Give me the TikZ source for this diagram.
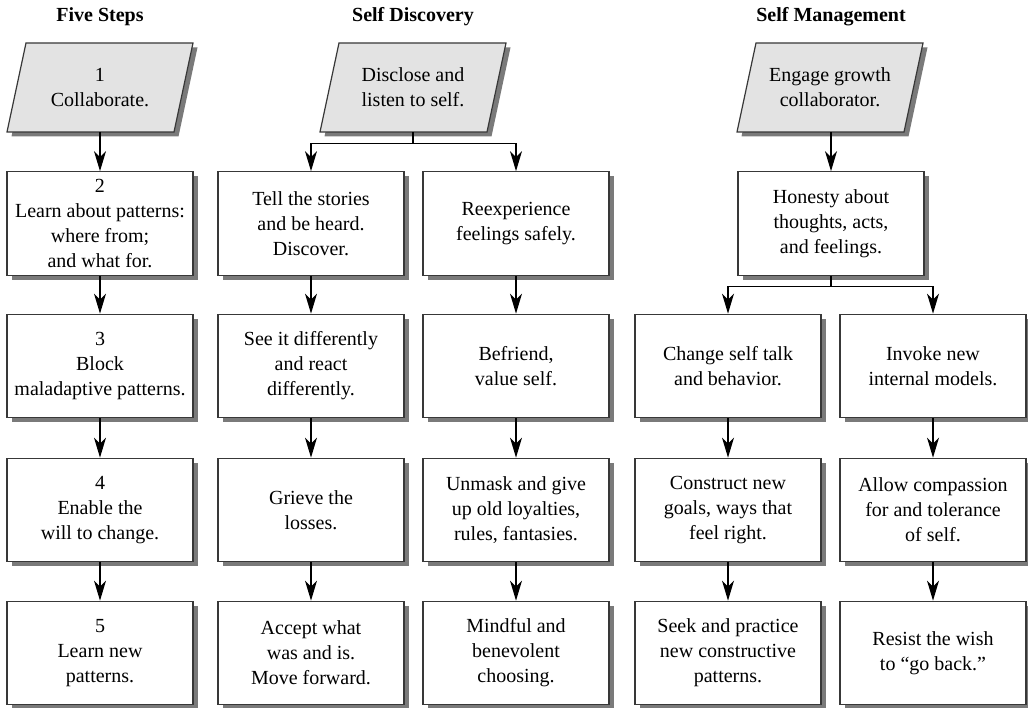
\documentclass[tikz,border=0pt]{standalone}
\usepackage{fontspec}
\setmainfont{Liberation Serif}
\usetikzlibrary{arrows.meta,shadows}

\tikzset{
  linecol/.style={draw=black!78, line width=1.2pt},
  stepbox/.style={linecol, fill=white, rectangle, minimum width=186pt,
    minimum height=103.5pt, inner sep=2pt, align=center,
    font=\fontsize{20}{25}\selectfont,
    drop shadow={shadow xshift=4.5pt, shadow yshift=-4.5pt, fill=black!52, opacity=1}},
  slanttext/.style={rectangle, minimum width=186pt, minimum height=89pt,
    inner sep=0pt, align=center, font=\fontsize{20}{25}\selectfont},
  slantfill/.style={linecol, fill=black!11},
  slantshadow/.style={fill=black!52},
  heading/.style={font=\fontsize{20}{24}\selectfont\bfseries, anchor=center},
  arr/.style={draw=black, line width=1.2pt, -{Stealth[length=20pt,width=12pt,inset=6pt]}},
}

% slanted (parallelogram) start box: name, centre x, centre y, text
\newcommand{\slantbox}[4]{%
  \fill[slantshadow] ({#2-93+4.5},{#3+44.5+4.5}) -- ({#2+74+4.5},{#3+44.5+4.5})
     -- ({#2+93+4.5},{#3-44.5+4.5}) -- ({#2-74+4.5},{#3-44.5+4.5}) -- cycle;
  \filldraw[slantfill] ({#2-93},{#3+44.5}) -- ({#2+74},{#3+44.5})
     -- ({#2+93},{#3-44.5}) -- ({#2-74},{#3-44.5}) -- cycle;
  \node[slanttext] (#1) at (#2,#3) {#4};
}

\begin{document}
\begin{tikzpicture}[x=1pt, y=-1pt]
\useasboundingbox (0,0) rectangle (1028,708);

% column headings
\node[heading] (h1) at (100,17) {Five Steps};
\node[heading] (h2) at (413,17) {Self Discovery};
\node[heading] (h3) at (831,17) {Self Management};

% starting boxes
\slantbox{p1}{100}{87.5}{1\\Collaborate.}
\slantbox{p2}{413}{87.5}{Disclose and\\listen to self.}
\slantbox{p3}{830}{87.5}{Engage growth\\collaborator.}

% Five Steps
\node[stepbox] (a1) at (100,223.5) {2\\Learn about patterns:\\where from;\\and what for.};
\node[stepbox] (a2) at (100,366) {3\\Block\\maladaptive patterns.};
\node[stepbox] (a3) at (100,510) {4\\Enable the\\will to change.};
\node[stepbox] (a4) at (100,653) {5\\Learn new\\patterns.};

% Self Discovery, left branch
\node[stepbox] (b1) at (311,223.5) {Tell the stories\\and be heard.\\Discover.};
\node[stepbox] (b2) at (311,366) {See it differently\\and react\\differently.};
\node[stepbox] (b3) at (311,510) {Grieve the\\losses.};
\node[stepbox] (b4) at (311,653) {Accept what\\was and is.\\Move forward.};

% Self Discovery, right branch
\node[stepbox] (c1) at (516,223.5) {Reexperience\\feelings safely.};
\node[stepbox] (c2) at (516,366) {Befriend,\\value self.};
\node[stepbox] (c3) at (516,510) {Unmask and give\\up old loyalties,\\rules, fantasies.};
\node[stepbox] (c4) at (516,653) {Mindful and\\benevolent\\choosing.};

% Self Management
\node[stepbox] (m0) at (831,223.5) {Honesty about\\thoughts, acts,\\and feelings.};
\node[stepbox] (d2) at (728,366) {Change self talk\\and behavior.};
\node[stepbox] (d3) at (728,510) {Construct new\\goals, ways that\\feel right.};
\node[stepbox] (d4) at (728,653) {Seek and practice\\new constructive\\patterns.};
\node[stepbox] (e2) at (933,366) {Invoke new\\internal models.};
\node[stepbox] (e3) at (933,510) {Allow compassion\\for and tolerance\\of self.};
\node[stepbox] (e4) at (933,653) {Resist the wish\\to \textquotedblleft go back.\textquotedblright};

% straight connectors
\draw[arr] (p1.south) -- (a1.north);
\draw[arr] (a1.south) -- (a2.north);
\draw[arr] (a2.south) -- (a3.north);
\draw[arr] (a3.south) -- (a4.north);

\draw[arr] (b1.south) -- (b2.north);
\draw[arr] (b2.south) -- (b3.north);
\draw[arr] (b3.south) -- (b4.north);

\draw[arr] (c1.south) -- (c2.north);
\draw[arr] (c2.south) -- (c3.north);
\draw[arr] (c3.south) -- (c4.north);

\draw[arr] (p3.south -| m0.north) -- (m0.north);

\draw[arr] (d2.south) -- (d3.north);
\draw[arr] (d3.south) -- (d4.north);
\draw[arr] (e2.south) -- (e3.north);
\draw[arr] (e3.south) -- (e4.north);

% branching connectors
\coordinate (j1) at ([yshift=-11pt]p2.south);
\draw[line width=1.2pt] (p2.south) -- (j1);
\draw[arr] (j1) -| (b1.north);
\draw[arr] (j1) -| (c1.north);

\coordinate (j2) at ([yshift=-11pt]m0.south);
\draw[line width=1.2pt] (m0.south) -- (j2);
\draw[arr] (j2) -| (d2.north);
\draw[arr] (j2) -| (e2.north);
\end{tikzpicture}
\end{document}
